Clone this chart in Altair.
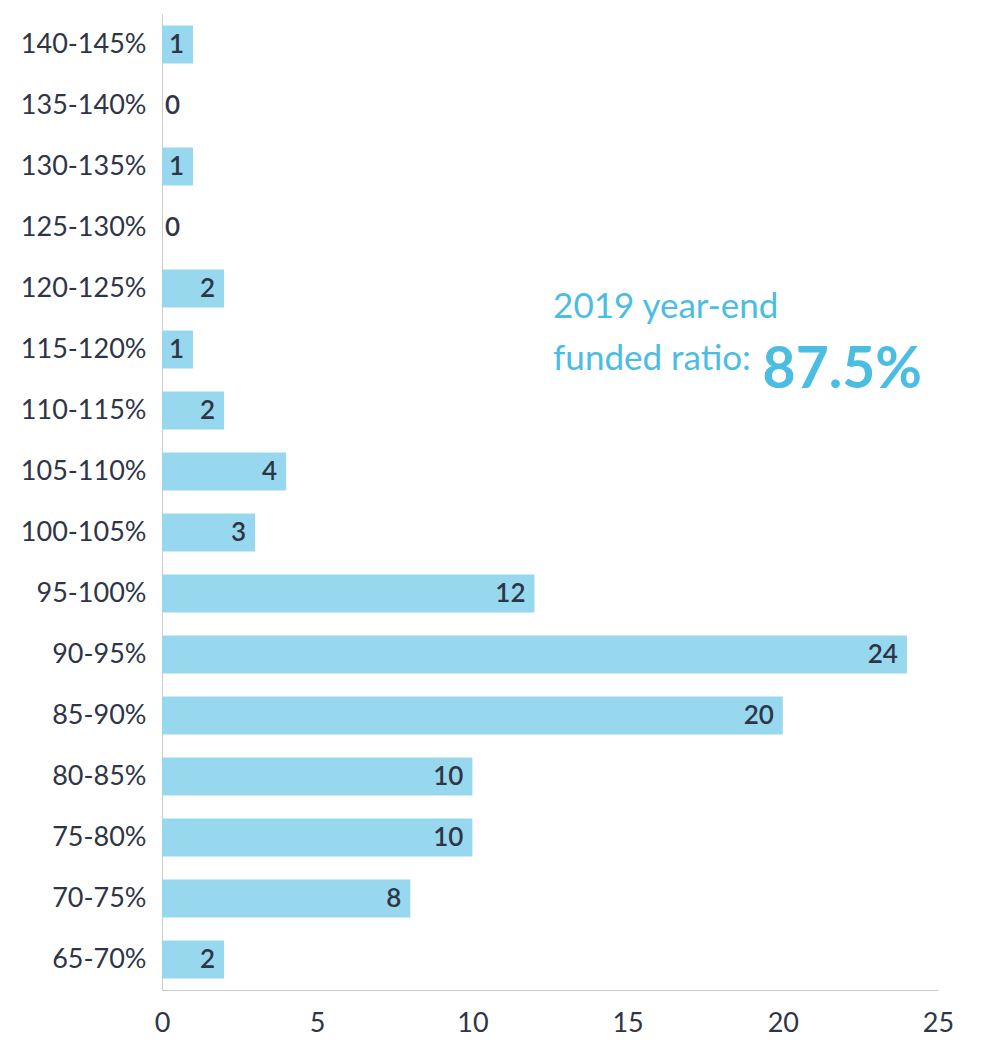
import altair as alt
import pandas as pd

categories = ["140-145%", "135-140%", "130-135%", "125-130%", "120-125%", "115-120%",
              "110-115%", "105-110%", "100-105%", "95-100%", "90-95%", "85-90%",
              "80-85%", "75-80%", "70-75%", "65-70%"]
counts = [1, 0, 1, 0, 2, 1, 2, 4, 3, 12, 24, 20, 10, 10, 8, 2]

annot_text = ["2019 year-end", "funded ratio:"]
annot_x = [12.6, 12.6]
annot_y = [304, 356]
big_text = ["87.5%"]
big_x = [19.35]
big_y = [374]

df = pd.DataFrame({"cat": categories, "n": counts})
ann = pd.DataFrame({"t": annot_text, "x": annot_x, "y": annot_y})
big = pd.DataFrame({"t": big_text, "x": big_x, "y": big_y})

FONT = "Lato"
DARK = "#2e3547"
BAR = "#98d8ef"
ACCENT = "#4bbde3"

y_enc = alt.Y("cat:N", sort=categories, title=None,
              scale=alt.Scale(paddingInner=0.377, paddingOuter=0.1885),
              axis=alt.Axis(ticks=False, labelFontSize=27, labelColor=DARK, labelFont=FONT,
                            labelPadding=16, domainColor="#cccccc", labelLimit=300))
x_scale = alt.Scale(domain=[0, 25], nice=False)

bars = alt.Chart(df).mark_bar(color=BAR).encode(
    x=alt.X("n:Q", scale=x_scale, title=None,
            axis=alt.Axis(values=[0, 5, 10, 15, 20, 25], ticks=False, grid=False,
                          labelFontSize=27, labelColor=DARK, labelFont=FONT, orient="bottom",
                          labelFlush=False, labelPadding=20, domainColor="#cccccc")),
    y=y_enc,
)

labels_in = alt.Chart(df).transform_filter("datum.n > 0").mark_text(
    align="right", baseline="middle", dx=-9, fontSize=26, fontWeight=600, font=FONT, color=DARK
).encode(x=alt.X("n:Q", scale=x_scale),
         y=alt.Y("cat:N", sort=categories), text="n:Q")

labels_zero = alt.Chart(df).transform_filter("datum.n == 0").mark_text(
    align="left", baseline="middle", dx=3, fontSize=26, fontWeight=600, font=FONT, color=DARK
).encode(x=alt.X("n:Q", scale=x_scale),
         y=alt.Y("cat:N", sort=categories), text="n:Q")

annot = alt.Chart(ann).mark_text(align="left", baseline="alphabetic", font=FONT,
                                 color=ACCENT, fontSize=35).encode(
    x=alt.X("x:Q", scale=x_scale),
    y=alt.Y("y:Q", scale=None),
    text="t:N",
)

annot_big = alt.Chart(big).mark_text(align="left", baseline="alphabetic", font=FONT,
                                     color=ACCENT, fontSize=57, fontWeight="bold").encode(
    x=alt.X("x:Q", scale=x_scale),
    y=alt.Y("y:Q", scale=None),
    text="t:N",
)

chart = alt.layer(bars, labels_in, labels_zero, annot, annot_big).properties(
    width=776, height=976,
    background="white",
    autosize=alt.AutoSizeParams(type="none"),
    padding={"left": 154, "top": 6, "right": 50, "bottom": 60},
).configure_view(stroke=None, strokeWidth=0).configure_axis(grid=False)

chart.save("out.html", embed_options={"renderer": "svg", "actions": False})
